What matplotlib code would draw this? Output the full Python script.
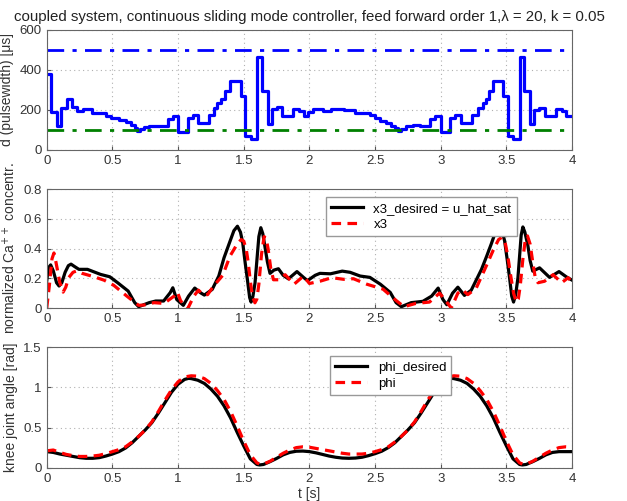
import numpy as np
import matplotlib
matplotlib.use('Agg')
import matplotlib.pyplot as plt
from matplotlib.ticker import FuncFormatter

plt.rcParams['font.family'] = ['Liberation Sans Narrow', 'Liberation Sans', 'DejaVu Sans']

# --- pulse width (step signal): switching times and held values ---
d_t = [0.0, 0.035, 0.076, 0.11, 0.152, 0.195, 0.233, 0.28, 0.347, 0.45,
       0.487, 0.55, 0.6, 0.645, 0.675, 0.69, 0.71, 0.74, 0.78, 0.83,
       0.924, 0.965, 1.0, 1.076, 1.11, 1.152, 1.236, 1.27, 1.30, 1.33,
       1.358, 1.395, 1.477, 1.51, 1.553, 1.6, 1.637, 1.683, 1.714, 1.75,
       1.795, 1.878, 1.92, 1.955, 1.99, 2.03, 2.1, 2.165, 2.26, 2.35,
       2.46, 2.5, 2.54, 2.58, 2.62, 2.65, 2.675, 2.70, 2.737, 2.79,
       2.84, 2.915, 2.957, 2.998, 3.07, 3.112, 3.155, 3.24, 3.28, 3.32,
       3.345, 3.37, 3.4, 3.47, 3.51, 3.55, 3.6, 3.637, 3.68, 3.713,
       3.75, 3.795, 3.878, 3.92, 3.955, 4.0]
d_val = [380, 188, 122, 212, 252, 217, 195, 207, 183, 170,
         160, 148, 138, 125, 108, 95, 105, 115, 122, 120,
         153, 170, 92, 162, 173, 133, 173, 208, 233, 255,
         295, 342, 267, 72, 55, 463, 292, 128, 204, 215,
         170, 207, 193, 172, 188, 203, 195, 205, 198, 183,
         173, 160, 147, 133, 120, 108, 95, 105, 118, 125,
         122, 153, 170, 92, 162, 175, 133, 173, 208, 233,
         255, 292, 345, 267, 72, 53, 463, 292, 128, 200,
         212, 170, 207, 195, 168, 168]
d_max = 500
d_min = 100

# --- normalized Ca++ concentration ---
x3d_t = [0.0, 0.012, 0.03, 0.05, 0.075, 0.094, 0.115, 0.14, 0.165, 0.185,
         0.21, 0.245, 0.31, 0.41, 0.48, 0.54, 0.62, 0.67, 0.70, 0.78,
         0.83, 0.89, 0.94, 0.96, 0.99, 1.04, 1.08, 1.127, 1.17, 1.2,
         1.26, 1.31, 1.35, 1.396, 1.425, 1.452, 1.475, 1.492, 1.51, 1.528,
         1.545, 1.556, 1.57, 1.586, 1.6, 1.615, 1.63, 1.645, 1.66, 1.68,
         1.70, 1.73, 1.764, 1.8, 1.84, 1.905, 1.955, 1.985, 2.044, 2.08,
         2.16, 2.25, 2.31, 2.386, 2.46, 2.54, 2.615, 2.66, 2.7, 2.775,
         2.864, 2.93, 2.98, 3.016, 3.046, 3.09, 3.13, 3.18, 3.232, 3.31,
         3.35, 3.384, 3.42, 3.447, 3.47, 3.486, 3.505, 3.524, 3.54, 3.554,
         3.57, 3.587, 3.6, 3.612, 3.625, 3.64, 3.663, 3.68, 3.7, 3.752,
         3.828, 3.9, 3.955, 4.0]
x3d_val = [0.18, 0.27, 0.29, 0.25, 0.17, 0.148, 0.17, 0.24, 0.285, 0.295,
           0.28, 0.26, 0.26, 0.226, 0.21, 0.17, 0.114, 0.036, 0.009, 0.036,
           0.047, 0.047, 0.103, 0.136, 0.057, 0.018, 0.08, 0.134, 0.103, 0.087,
           0.125, 0.215, 0.338, 0.45, 0.52, 0.55, 0.51, 0.44, 0.31, 0.19,
           0.07, 0.04, 0.08, 0.17, 0.32, 0.48, 0.54, 0.5, 0.42, 0.31,
           0.233, 0.255, 0.264, 0.22, 0.196, 0.245, 0.206, 0.184, 0.22, 0.233,
           0.23, 0.248, 0.24, 0.215, 0.206, 0.16, 0.105, 0.036, 0.009, 0.036,
           0.045, 0.08, 0.134, 0.058, 0.022, 0.1, 0.14, 0.085, 0.12, 0.26,
           0.35, 0.43, 0.52, 0.555, 0.51, 0.45, 0.33, 0.2, 0.08, 0.04,
           0.09, 0.2, 0.35, 0.49, 0.545, 0.51, 0.42, 0.32, 0.248, 0.27,
           0.206, 0.245, 0.21, 0.187]

x3_t = [0.0, 0.02, 0.04, 0.055, 0.07, 0.1, 0.125, 0.145, 0.167, 0.2,
        0.23, 0.27, 0.36, 0.437, 0.51, 0.61, 0.70, 0.74, 0.817, 0.893,
        0.97, 0.995, 1.02, 1.076, 1.12, 1.155, 1.19, 1.225, 1.27, 1.34,
        1.396, 1.45, 1.48, 1.5, 1.52, 1.535, 1.55, 1.566, 1.585, 1.6,
        1.615, 1.635, 1.655, 1.67, 1.685, 1.705, 1.726, 1.764, 1.815, 1.883,
        1.955, 2.0, 2.08, 2.17, 2.26, 2.335, 2.437, 2.56, 2.665, 2.72,
        2.81, 2.914, 2.99, 3.03, 3.08, 3.13, 3.163, 3.206, 3.27, 3.345,
        3.4, 3.44, 3.467, 3.49, 3.51, 3.53, 3.554, 3.575, 3.59, 3.605,
        3.625, 3.645, 3.66, 3.68, 3.7, 3.72, 3.74, 3.79, 3.855, 3.92,
        3.97, 4.0]
x3_val = [0.0, 0.15, 0.33, 0.37, 0.31, 0.17, 0.107, 0.14, 0.204, 0.24,
          0.25, 0.233, 0.21, 0.187, 0.153, 0.08, 0.018, 0.02, 0.036, 0.031,
          0.08, 0.107, 0.047, 0.0, 0.08, 0.12, 0.09, 0.09, 0.147, 0.22,
          0.35, 0.43, 0.46, 0.45, 0.39, 0.3, 0.18, 0.08, 0.035, 0.06,
          0.16, 0.36, 0.48, 0.47, 0.4, 0.27, 0.19, 0.19, 0.224, 0.16,
          0.215, 0.165, 0.18, 0.204, 0.193, 0.197, 0.16, 0.127, 0.047, 0.009,
          0.031, 0.04, 0.1, 0.058, 0.0, 0.1, 0.123, 0.09, 0.134, 0.28,
          0.39, 0.46, 0.477, 0.44, 0.35, 0.23, 0.1, 0.04, 0.06, 0.15,
          0.33, 0.47, 0.485, 0.43, 0.31, 0.2, 0.17, 0.18, 0.224, 0.17,
          0.204, 0.17]

# --- knee joint angle ---
phid_t = [0.0, 0.05, 0.1, 0.15, 0.2, 0.25, 0.3, 0.35, 0.4, 0.45,
          0.5, 0.55, 0.6, 0.65, 0.7, 0.75, 0.8, 0.85, 0.9, 0.95,
          1.0, 1.05, 1.08, 1.1, 1.15, 1.2, 1.25, 1.3, 1.35, 1.4,
          1.45, 1.5, 1.55, 1.6, 1.62, 1.65, 1.7, 1.75, 1.8, 1.85,
          1.9, 1.95, 2.0, 2.05, 2.1, 2.15, 2.2, 2.25, 2.3, 2.35,
          2.4, 2.45, 2.5, 2.55, 2.6, 2.65, 2.7, 2.75, 2.8, 2.85,
          2.9, 2.95, 3.0, 3.05, 3.08, 3.1, 3.15, 3.2, 3.25, 3.3,
          3.35, 3.4, 3.45, 3.5, 3.55, 3.6, 3.62, 3.65, 3.7, 3.75,
          3.8, 3.85, 3.9, 3.95, 4.0]
phid_val = [0.2, 0.19, 0.17, 0.155, 0.14, 0.125, 0.117, 0.117, 0.125, 0.145,
            0.17, 0.2, 0.245, 0.31, 0.39, 0.47, 0.56, 0.68, 0.81, 0.94,
            1.04, 1.1, 1.113, 1.11, 1.09, 1.05, 0.98, 0.89, 0.77, 0.62,
            0.44, 0.27, 0.11, 0.04, 0.034, 0.04, 0.075, 0.115, 0.16, 0.19,
            0.205, 0.207, 0.2, 0.185, 0.165, 0.145, 0.13, 0.12, 0.117, 0.12,
            0.13, 0.15, 0.175, 0.205, 0.25, 0.31, 0.39, 0.47, 0.56, 0.68,
            0.81, 0.94, 1.04, 1.1, 1.113, 1.11, 1.09, 1.05, 0.98, 0.89,
            0.77, 0.62, 0.44, 0.27, 0.11, 0.04, 0.034, 0.04, 0.075, 0.115,
            0.16, 0.19, 0.2, 0.2, 0.2]

phi_t = [0.0, 0.05, 0.1, 0.15, 0.2, 0.25, 0.3, 0.35, 0.4, 0.45,
         0.5, 0.55, 0.6, 0.65, 0.7, 0.75, 0.8, 0.85, 0.9, 0.95,
         1.0, 1.05, 1.1, 1.15, 1.2, 1.25, 1.3, 1.35, 1.4, 1.45,
         1.5, 1.55, 1.6, 1.63, 1.65, 1.7, 1.75, 1.8, 1.85, 1.9,
         1.95, 2.0, 2.05, 2.1, 2.15, 2.2, 2.25, 2.3, 2.35, 2.4,
         2.45, 2.5, 2.55, 2.6, 2.65, 2.7, 2.75, 2.8, 2.85, 2.9,
         2.95, 3.0, 3.05, 3.1, 3.15, 3.2, 3.25, 3.3, 3.35, 3.4,
         3.45, 3.5, 3.55, 3.6, 3.63, 3.65, 3.7, 3.75, 3.8, 3.85,
         3.9, 3.95, 4.0]
phi_val = [0.21, 0.22, 0.19, 0.165, 0.15, 0.14, 0.14, 0.145, 0.155, 0.175,
           0.2, 0.225, 0.26, 0.32, 0.39, 0.47, 0.57, 0.7, 0.84, 0.97,
           1.07, 1.13, 1.145, 1.14, 1.11, 1.05, 0.96, 0.85, 0.7, 0.52,
           0.33, 0.16, 0.06, 0.04, 0.045, 0.08, 0.13, 0.18, 0.22, 0.25,
           0.26, 0.255, 0.24, 0.225, 0.21, 0.195, 0.18, 0.17, 0.17, 0.17,
           0.18, 0.2, 0.225, 0.26, 0.32, 0.39, 0.47, 0.57, 0.7, 0.84,
           0.97, 1.07, 1.13, 1.145, 1.14, 1.11, 1.05, 0.96, 0.85, 0.7,
           0.52, 0.33, 0.16, 0.06, 0.04, 0.045, 0.08, 0.13, 0.18, 0.22,
           0.25, 0.26, 0.255]

time_ticks = [0, 0.5, 1, 1.5, 2, 2.5, 3, 3.5, 4]

fig = plt.figure(figsize=(6.27, 5.01), dpi=100)
fmt = FuncFormatter(lambda v, p: '%g' % v)

ax1 = fig.add_axes([0.0745, 0.7006, 0.838, 0.240])
ax2 = fig.add_axes([0.0745, 0.3852, 0.838, 0.2375])
ax3 = fig.add_axes([0.0745, 0.0665, 0.838, 0.2403])

for ax in (ax1, ax2, ax3):
    ax.set_xlim(0, 4)
    ax.set_xticks(time_ticks)
    ax.xaxis.set_major_formatter(fmt)
    ax.yaxis.set_major_formatter(fmt)
    ax.grid(True, linestyle=(0, (1, 3)), color='#b0b0b0', linewidth=0.8)
    ax.tick_params(direction='in', labelsize=9.5, length=3, color='#555555',
                   labelcolor='#333333')
    for s in ax.spines.values():
        s.set_color('#666666')
        s.set_linewidth(0.8)

# top panel
ax1.step(d_t, d_val, where='post', color='blue', lw=2.3)
ax1.axhline(d_max, color='blue', lw=2, ls=(0, (6, 3, 1.5, 3)))
ax1.axhline(d_min, color='green', lw=2, ls=(0, (6, 3, 1.5, 3)))
ax1.set_ylim(0, 600)
ax1.set_yticks([0, 200, 400, 600])
ax1.set_ylabel('d (pulsewidth) [\u03bcs]', fontsize=10, color='#333333')
ax1.set_title('coupled system, continuous sliding mode controller, feed forward order 1,\u03bb = 20, k = 0.05',
              fontsize=10.8, color='#222222', pad=6)

# middle panel
ax2.plot(x3d_t, x3d_val, color='black', lw=2.3, solid_joinstyle='round',
         label='x3_desired = u_hat_sat')
ax2.plot(x3_t, x3_val, color='red', lw=2.3, ls=(0, (3, 2)), dash_joinstyle='round',
         label='x3')
ax2.set_ylim(0, 0.8)
ax2.set_yticks([0, 0.2, 0.4, 0.6, 0.8])
ax2.set_ylabel('normalized Ca$^{++}$ concentr.', fontsize=10, color='#333333')
ax2.legend(loc='upper right', bbox_to_anchor=(0.907, 0.985), fontsize=9.5,
           fancybox=False, edgecolor='#999999', framealpha=1, handlelength=2.4,
           borderpad=0.4, labelspacing=0.3)

# bottom panel
ax3.plot(phid_t, phid_val, color='black', lw=2.3, solid_joinstyle='round',
         label='phi_desired')
ax3.plot(phi_t, phi_val, color='red', lw=2.3, ls=(0, (3, 2)), dash_joinstyle='round',
         label='phi')
ax3.set_ylim(0, 1.5)
ax3.set_yticks([0, 0.5, 1, 1.5])
ax3.set_ylabel('knee joint angle [rad]', fontsize=10, color='#333333')
ax3.set_xlabel('t [s]', fontsize=10, color='#333333', labelpad=2)
ax3.legend(loc='upper left', bbox_to_anchor=(0.527, 0.98), fontsize=9.5,
           fancybox=False, edgecolor='#999999', framealpha=1, handlelength=2.4,
           borderpad=0.4, labelspacing=0.3)

fig.savefig('out.png', dpi=100)
